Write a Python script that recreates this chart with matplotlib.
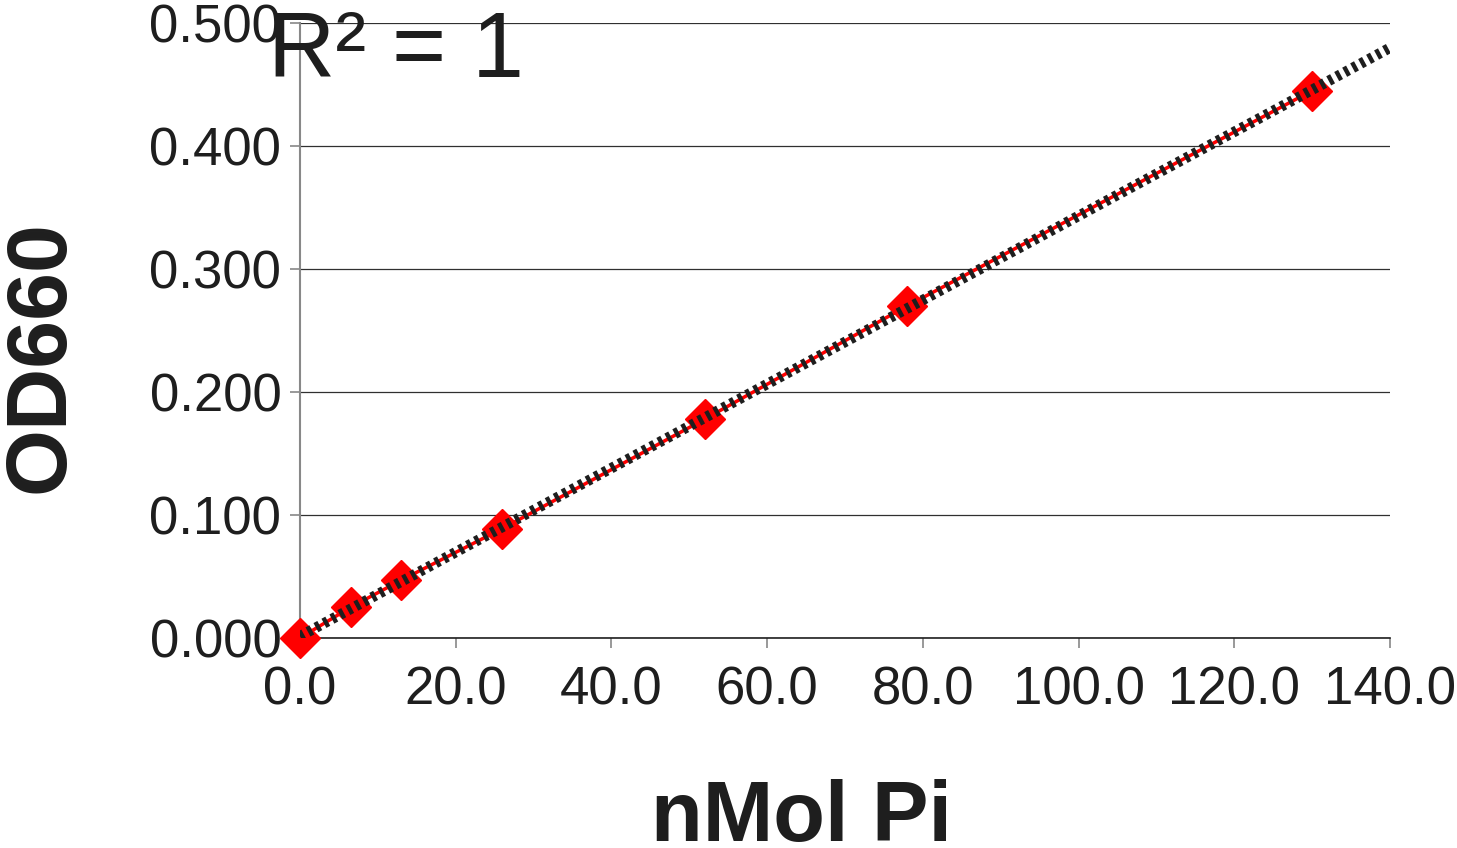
import numpy as np
import matplotlib
matplotlib.use('Agg')
import matplotlib.pyplot as plt
from matplotlib.ticker import FormatStrFormatter

## Standard curve readings
nmol_pi = [0.0, 6.5, 13.0, 26.0, 52.0, 78.0, 130.0]
od660 = [0.000, 0.025, 0.047, 0.089, 0.178, 0.270, 0.445]

x_ticks = [0, 20, 40, 60, 80, 100, 120, 140]
y_ticks = [0.0, 0.1, 0.2, 0.3, 0.4, 0.5]

plt.rcParams['font.family'] = ['Liberation Sans', 'DejaVu Sans']
TXT = '#1e1e1e'

fig = plt.figure(figsize=(14.57, 8.48), dpi=100)
ax = fig.add_axes([300/1457, 1-638/848, 1090/1457, 615/848])

## Linear trendline over the full axis range
slope, icpt = np.polyfit(nmol_pi, od660, 1)
xt = np.array([0.0, 140.0])
ax.plot(xt, slope*xt + icpt, color='#1e1e1e', lw=7.5, dashes=(0.42, 0.45),
        dash_capstyle='butt', zorder=5)

ax.plot(nmol_pi, od660, '-', color='#ff0000', lw=2.5, zorder=3)
ax.plot(nmol_pi, od660, 'D', color='#ff0000', ms=20, mec='#ff0000', zorder=4,
        clip_on=False)

ax.set_xlim(0, 140)
ax.set_ylim(0, 0.5)
ax.set_xticks(x_ticks)
ax.set_yticks(y_ticks)
ax.xaxis.set_major_formatter(FormatStrFormatter('%.1f'))
ax.yaxis.set_major_formatter(FormatStrFormatter('%.3f'))

ax.grid(axis='y', color='#303030', lw=0.9)
ax.set_axisbelow(True)
for s in ['top', 'right']:
    ax.spines[s].set_visible(False)
ax.spines['left'].set_color('#888888')
ax.spines['left'].set_linewidth(1.5)
ax.spines['bottom'].set_color('#202020')
ax.spines['bottom'].set_linewidth(1.2)

ax.tick_params(axis='x', direction='out', length=7.5, width=1.2, color='#888888',
               labelsize=38, labelcolor=TXT, pad=12)
ax.tick_params(axis='y', direction='out', length=7.5, width=1.2, color='#888888',
               labelsize=38, labelcolor=TXT, pad=6)

## axis titles placed to match the original layout
fig.text(802/1457, 1-841/848, 'nMol Pi', fontsize=61, fontweight='bold', color=TXT,
         ha='center', va='baseline')
fig.text(42/1457, 1-357/848, 'OD660', fontsize=62, fontweight='bold', color=TXT,
         ha='center', va='center', rotation=90)

fig.text(268/1457, 1-77/848, 'R² = 1', fontsize=67, color=TXT, ha='left', va='baseline')

fig.savefig('out.png', dpi=100)
